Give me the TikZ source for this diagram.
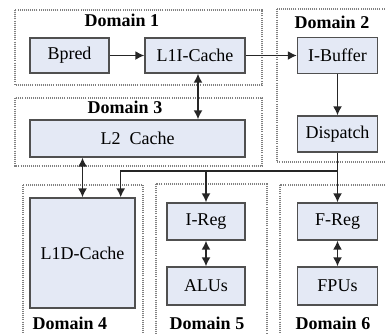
\documentclass[tikz,border=0pt]{standalone}
\usepackage{fontspec}
\setmainfont{Liberation Serif}
\usepackage{xcolor}
\usetikzlibrary{arrows.meta,positioning}
\definecolor{unitfill}{RGB}{228,233,245}
\definecolor{unitline}{RGB}{80,80,80}

\begin{document}
\begin{tikzpicture}[
			x=1pt, y=-1pt,
			unit/.style={draw=unitline, line width=1.4pt, fill=unitfill, inner sep=0pt,
				font=\fontsize{18}{21}\selectfont},
			domainbox/.style={draw=black!50, line width=1.1pt, dash pattern=on 1pt off 1.1pt},
			dlabel/.style={font=\fontsize{18}{21}\selectfont\bfseries},
			link/.style={draw=black!85, line width=1.5pt, -{Latex[length=9pt,width=9pt]}},
			both/.style={link, {Latex[length=9pt,width=9pt]}-{Latex[length=9pt,width=9pt]}}
			]
			\clip (0,0) rectangle (386,333);
			% domains
			\draw[domainbox] (15,10) rectangle (262,85);
			\draw[domainbox] (277,9) rectangle (392,162);
			\draw[domainbox] (15,98) rectangle (262,166);
			\draw[domainbox] (23,185) rectangle (143,345);
			\draw[domainbox] (156,184) rectangle (267,345);
			\draw[domainbox] (280,185) rectangle (392,345);
			\node[dlabel] (d1) at (122,20) {Domain 1};
			\node[dlabel] (d2) at (332,22) {Domain 2};
			\node[dlabel] (d3) at (125,107) {Domain 3};
			\node[dlabel] (d4) at (70,323) {Domain 4};
			\node[dlabel] (d5) at (207,323) {Domain 5};
			\node[dlabel] (d6) at (333,323) {Domain 6};
			% units
			\node[unit, minimum width=79pt, minimum height=35pt] (bpred) at (69.5,55.5) {Bpred};
			\node[unit, minimum width=100pt, minimum height=35pt] (l1i) at (195,55.5) {L1I-Cache};
			\node[unit, minimum width=80pt, minimum height=36pt] (ibuf) at (337.5,55.5) {I-Buffer};
			\node[unit, minimum width=215pt, minimum height=37pt] (l2) at (137.5,138.5) {L2\ \ Cache};
			\node[unit, minimum width=80pt, minimum height=36pt] (disp) at (337.5,134) {Dispatch};
			\node[unit, minimum width=105pt, minimum height=110pt] (l1d) at (82.5,253) {L1D-Cache};
			\node[unit, minimum width=78pt, minimum height=37pt] (ireg) at (206,221.5) {I-Reg};
			\node[unit, minimum width=78pt, minimum height=38pt] (alu) at (206,286) {ALUs};
			\node[unit, minimum width=80pt, minimum height=37pt] (freg) at (337.5,221.5) {F-Reg};
			\node[unit, minimum width=80pt, minimum height=38pt] (fpu) at (337.5,286) {FPUs};
			% connectors
			\coordinate (bus) at (337.5,171);
			\draw[link] (bpred) -- (l1i);
			\draw[link] (l1i) -- (ibuf);
			\draw[link] (ibuf) -- (disp);
			\draw[both] ([xshift=3pt]l1i.south) -- ([xshift=3pt]l1i.south |- l2.north);
			\draw[both] (l2.south -| l1d.north) -- (l1d.north);
			\draw[link] (disp) -- (freg);
			\draw[link] (bus) -| ([xshift=-15pt]l1d.north east);
			\draw[link] (ireg.north |- bus) -- (ireg);
			\draw[both] (ireg) -- (alu);
			\draw[both] (freg) -- (fpu);
		\end{tikzpicture}
\end{document}
